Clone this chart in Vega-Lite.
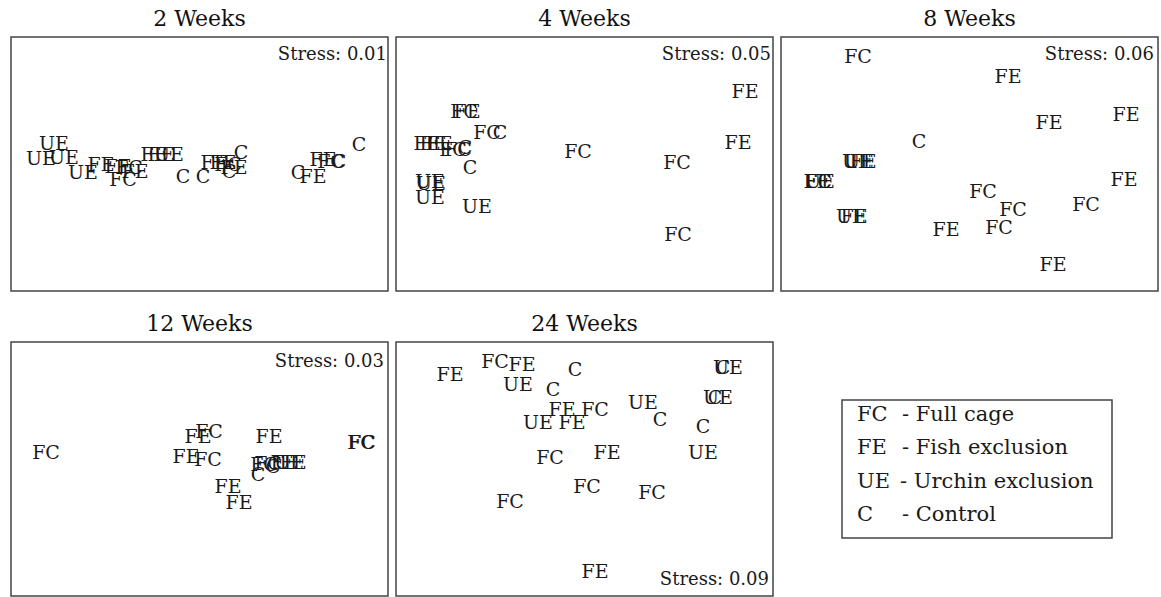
{
  "$schema": "https://vega.github.io/schema/vega-lite/v6.json",
  "background": "white",
  "padding": {"left": 10, "top": 7, "right": 0, "bottom": 0},
  "config": {
    "view": {"stroke": "#444", "strokeWidth": 1.5},
    "title": {"font": "DejaVu Serif", "fontSize": 22, "fontWeight": "normal", "color": "#111", "offset": 6, "anchor": "middle"},
    "text": {"font": "DejaVu Serif", "color": "#1a1a1a"}
  },
  "datasets": {
    "points": [
      {"panel": "2 Weeks", "label": "UE", "x": 43, "y": 147},
      {"panel": "2 Weeks", "label": "UE", "x": 30, "y": 132},
      {"panel": "2 Weeks", "label": "UE", "x": 53, "y": 133},
      {"panel": "2 Weeks", "label": "UE", "x": 72, "y": 118},
      {"panel": "2 Weeks", "label": "FE", "x": 90, "y": 126},
      {"panel": "2 Weeks", "label": "FE", "x": 107, "y": 124},
      {"panel": "2 Weeks", "label": "FC", "x": 112, "y": 111},
      {"panel": "2 Weeks", "label": "FC", "x": 118, "y": 123},
      {"panel": "2 Weeks", "label": "FE", "x": 124, "y": 119},
      {"panel": "2 Weeks", "label": "FE", "x": 143, "y": 136},
      {"panel": "2 Weeks", "label": "FE", "x": 150, "y": 136},
      {"panel": "2 Weeks", "label": "UE", "x": 158, "y": 136},
      {"panel": "2 Weeks", "label": "C", "x": 172, "y": 114},
      {"panel": "2 Weeks", "label": "C", "x": 192, "y": 114},
      {"panel": "2 Weeks", "label": "FE", "x": 203, "y": 128},
      {"panel": "2 Weeks", "label": "FE", "x": 212, "y": 128},
      {"panel": "2 Weeks", "label": "FC", "x": 217, "y": 126},
      {"panel": "2 Weeks", "label": "FE", "x": 223, "y": 123},
      {"panel": "2 Weeks", "label": "C", "x": 218, "y": 119},
      {"panel": "2 Weeks", "label": "C", "x": 230, "y": 138},
      {"panel": "2 Weeks", "label": "C", "x": 287, "y": 118},
      {"panel": "2 Weeks", "label": "FE", "x": 302, "y": 114},
      {"panel": "2 Weeks", "label": "FE", "x": 312, "y": 131},
      {"panel": "2 Weeks", "label": "FC", "x": 320, "y": 129},
      {"panel": "2 Weeks", "label": "C", "x": 328, "y": 129},
      {"panel": "2 Weeks", "label": "C", "x": 348, "y": 146},

      {"panel": "4 Weeks", "label": "FE", "x": 349, "y": 199},
      {"panel": "4 Weeks", "label": "FE", "x": 342, "y": 148},
      {"panel": "4 Weeks", "label": "FC", "x": 182, "y": 139},
      {"panel": "4 Weeks", "label": "FC", "x": 281, "y": 128},
      {"panel": "4 Weeks", "label": "FC", "x": 282, "y": 56},
      {"panel": "4 Weeks", "label": "FE", "x": 71, "y": 179},
      {"panel": "4 Weeks", "label": "FC", "x": 68, "y": 179},
      {"panel": "4 Weeks", "label": "FC", "x": 91, "y": 158},
      {"panel": "4 Weeks", "label": "C", "x": 104, "y": 158},
      {"panel": "4 Weeks", "label": "FE", "x": 31, "y": 147},
      {"panel": "4 Weeks", "label": "FE", "x": 37, "y": 147},
      {"panel": "4 Weeks", "label": "FE", "x": 43, "y": 147},
      {"panel": "4 Weeks", "label": "FC", "x": 57, "y": 141},
      {"panel": "4 Weeks", "label": "FC", "x": 62, "y": 141},
      {"panel": "4 Weeks", "label": "C", "x": 69, "y": 143},
      {"panel": "4 Weeks", "label": "C", "x": 74, "y": 123},
      {"panel": "4 Weeks", "label": "UE", "x": 34, "y": 109},
      {"panel": "4 Weeks", "label": "UE", "x": 35, "y": 107},
      {"panel": "4 Weeks", "label": "UE", "x": 34, "y": 93},
      {"panel": "4 Weeks", "label": "UE", "x": 81, "y": 84},

      {"panel": "8 Weeks", "label": "FC", "x": 77, "y": 234},
      {"panel": "8 Weeks", "label": "FE", "x": 227, "y": 214},
      {"panel": "8 Weeks", "label": "FE", "x": 268, "y": 168},
      {"panel": "8 Weeks", "label": "FE", "x": 345, "y": 176},
      {"panel": "8 Weeks", "label": "C", "x": 138, "y": 149},
      {"panel": "8 Weeks", "label": "UE", "x": 76, "y": 129},
      {"panel": "8 Weeks", "label": "UE", "x": 78, "y": 129},
      {"panel": "8 Weeks", "label": "FE", "x": 82, "y": 129},
      {"panel": "8 Weeks", "label": "FE", "x": 36, "y": 109},
      {"panel": "8 Weeks", "label": "FC", "x": 37, "y": 109},
      {"panel": "8 Weeks", "label": "UE", "x": 39, "y": 109},
      {"panel": "8 Weeks", "label": "UE", "x": 70, "y": 74},
      {"panel": "8 Weeks", "label": "FE", "x": 73, "y": 74},
      {"panel": "8 Weeks", "label": "FC", "x": 202, "y": 99},
      {"panel": "8 Weeks", "label": "FC", "x": 232, "y": 81},
      {"panel": "8 Weeks", "label": "FC", "x": 218, "y": 63},
      {"panel": "8 Weeks", "label": "FE", "x": 165, "y": 61},
      {"panel": "8 Weeks", "label": "FC", "x": 305, "y": 86},
      {"panel": "8 Weeks", "label": "FE", "x": 343, "y": 111},
      {"panel": "8 Weeks", "label": "FE", "x": 272, "y": 26},

      {"panel": "12 Weeks", "label": "FC", "x": 35, "y": 143},
      {"panel": "12 Weeks", "label": "FC", "x": 350, "y": 153},
      {"panel": "12 Weeks", "label": "FC", "x": 351, "y": 153},
      {"panel": "12 Weeks", "label": "FE", "x": 187, "y": 159},
      {"panel": "12 Weeks", "label": "FC", "x": 198, "y": 164},
      {"panel": "12 Weeks", "label": "FE", "x": 175, "y": 139},
      {"panel": "12 Weeks", "label": "FC", "x": 197, "y": 136},
      {"panel": "12 Weeks", "label": "FE", "x": 258, "y": 159},
      {"panel": "12 Weeks", "label": "FE", "x": 217, "y": 109},
      {"panel": "12 Weeks", "label": "FE", "x": 228, "y": 93},
      {"panel": "12 Weeks", "label": "C", "x": 247, "y": 121},
      {"panel": "12 Weeks", "label": "FC", "x": 253, "y": 131},
      {"panel": "12 Weeks", "label": "FC", "x": 257, "y": 132},
      {"panel": "12 Weeks", "label": "C", "x": 262, "y": 129},
      {"panel": "12 Weeks", "label": "FE", "x": 273, "y": 133},
      {"panel": "12 Weeks", "label": "UE", "x": 278, "y": 133},
      {"panel": "12 Weeks", "label": "FE", "x": 282, "y": 133},

      {"panel": "24 Weeks", "label": "FE", "x": 54, "y": 221},
      {"panel": "24 Weeks", "label": "FC", "x": 99, "y": 234},
      {"panel": "24 Weeks", "label": "FE", "x": 126, "y": 231},
      {"panel": "24 Weeks", "label": "UE", "x": 122, "y": 211},
      {"panel": "24 Weeks", "label": "C", "x": 179, "y": 226},
      {"panel": "24 Weeks", "label": "C", "x": 157, "y": 206},
      {"panel": "24 Weeks", "label": "FE", "x": 166, "y": 186},
      {"panel": "24 Weeks", "label": "FC", "x": 199, "y": 186},
      {"panel": "24 Weeks", "label": "UE", "x": 142, "y": 173},
      {"panel": "24 Weeks", "label": "FE", "x": 176, "y": 173},
      {"panel": "24 Weeks", "label": "UE", "x": 247, "y": 193},
      {"panel": "24 Weeks", "label": "C", "x": 264, "y": 176},
      {"panel": "24 Weeks", "label": "C", "x": 327, "y": 228},
      {"panel": "24 Weeks", "label": "UE", "x": 332, "y": 228},
      {"panel": "24 Weeks", "label": "C", "x": 319, "y": 198},
      {"panel": "24 Weeks", "label": "UE", "x": 322, "y": 198},
      {"panel": "24 Weeks", "label": "C", "x": 307, "y": 169},
      {"panel": "24 Weeks", "label": "UE", "x": 307, "y": 143},
      {"panel": "24 Weeks", "label": "FC", "x": 154, "y": 138},
      {"panel": "24 Weeks", "label": "FE", "x": 211, "y": 143},
      {"panel": "24 Weeks", "label": "FC", "x": 191, "y": 109},
      {"panel": "24 Weeks", "label": "FC", "x": 256, "y": 103},
      {"panel": "24 Weeks", "label": "FC", "x": 114, "y": 94},
      {"panel": "24 Weeks", "label": "FE", "x": 199, "y": 24}
    ],
    "stress": [
      {"panel": "2 Weeks", "label": "Stress: 0.01", "x": 376, "y": 236},
      {"panel": "4 Weeks", "label": "Stress: 0.05", "x": 375, "y": 236},
      {"panel": "8 Weeks", "label": "Stress: 0.06", "x": 373, "y": 236},
      {"panel": "12 Weeks", "label": "Stress: 0.03", "x": 373, "y": 234},
      {"panel": "24 Weeks", "label": "Stress: 0.09", "x": 373, "y": 16}
    ],
    "legend": [
      {"code": "FC", "desc": "- Full cage", "x": 77, "xd": 122, "y": 181},
      {"code": "FE", "desc": "- Fish exclusion", "x": 77, "xd": 122, "y": 148},
      {"code": "UE", "desc": "- Urchin exclusion", "x": 77, "xd": 120, "y": 114},
      {"code": "C", "desc": "- Control", "x": 77, "xd": 122, "y": 81}
    ],
    "legendbox": [
      {"x1": 62, "x2": 332, "y1": 58, "y2": 196}
    ]
  },
  "spacing": 20,
  "vconcat": [
    {
      "spacing": 6,
      "hconcat": [
        {
          "title": "2 Weeks", "width": 377, "height": 254,
          "layer": [
            {"data": {"name": "points"}, "transform": [{"filter": "datum.panel === '2 Weeks'"}],
             "mark": {"type": "text", "fontSize": 19},
             "encoding": {"x": {"field": "x", "type": "quantitative", "scale": {"domain": [0, 377], "nice": false, "zero": false}, "axis": null},
                          "y": {"field": "y", "type": "quantitative", "scale": {"domain": [0, 254], "nice": false, "zero": false}, "axis": null},
                          "text": {"field": "label"}}},
            {"data": {"name": "stress"}, "transform": [{"filter": "datum.panel === '2 Weeks'"}],
             "mark": {"type": "text", "fontSize": 18, "align": "right"},
             "encoding": {"x": {"field": "x", "type": "quantitative", "scale": {"domain": [0, 377], "nice": false, "zero": false}, "axis": null},
                          "y": {"field": "y", "type": "quantitative", "scale": {"domain": [0, 254], "nice": false, "zero": false}, "axis": null},
                          "text": {"field": "label"}}}
          ]
        },
        {
          "title": "4 Weeks", "width": 377, "height": 254,
          "layer": [
            {"data": {"name": "points"}, "transform": [{"filter": "datum.panel === '4 Weeks'"}],
             "mark": {"type": "text", "fontSize": 19},
             "encoding": {"x": {"field": "x", "type": "quantitative", "scale": {"domain": [0, 377], "nice": false, "zero": false}, "axis": null},
                          "y": {"field": "y", "type": "quantitative", "scale": {"domain": [0, 254], "nice": false, "zero": false}, "axis": null},
                          "text": {"field": "label"}}},
            {"data": {"name": "stress"}, "transform": [{"filter": "datum.panel === '4 Weeks'"}],
             "mark": {"type": "text", "fontSize": 18, "align": "right"},
             "encoding": {"x": {"field": "x", "type": "quantitative", "scale": {"domain": [0, 377], "nice": false, "zero": false}, "axis": null},
                          "y": {"field": "y", "type": "quantitative", "scale": {"domain": [0, 254], "nice": false, "zero": false}, "axis": null},
                          "text": {"field": "label"}}}
          ]
        },
        {
          "title": "8 Weeks", "width": 377, "height": 254,
          "layer": [
            {"data": {"name": "points"}, "transform": [{"filter": "datum.panel === '8 Weeks'"}],
             "mark": {"type": "text", "fontSize": 19},
             "encoding": {"x": {"field": "x", "type": "quantitative", "scale": {"domain": [0, 377], "nice": false, "zero": false}, "axis": null},
                          "y": {"field": "y", "type": "quantitative", "scale": {"domain": [0, 254], "nice": false, "zero": false}, "axis": null},
                          "text": {"field": "label"}}},
            {"data": {"name": "stress"}, "transform": [{"filter": "datum.panel === '8 Weeks'"}],
             "mark": {"type": "text", "fontSize": 18, "align": "right"},
             "encoding": {"x": {"field": "x", "type": "quantitative", "scale": {"domain": [0, 377], "nice": false, "zero": false}, "axis": null},
                          "y": {"field": "y", "type": "quantitative", "scale": {"domain": [0, 254], "nice": false, "zero": false}, "axis": null},
                          "text": {"field": "label"}}}
          ]
        }
      ]
    },
    {
      "spacing": 6,
      "hconcat": [
        {
          "title": "12 Weeks", "width": 377, "height": 254,
          "layer": [
            {"data": {"name": "points"}, "transform": [{"filter": "datum.panel === '12 Weeks'"}],
             "mark": {"type": "text", "fontSize": 19},
             "encoding": {"x": {"field": "x", "type": "quantitative", "scale": {"domain": [0, 377], "nice": false, "zero": false}, "axis": null},
                          "y": {"field": "y", "type": "quantitative", "scale": {"domain": [0, 254], "nice": false, "zero": false}, "axis": null},
                          "text": {"field": "label"}}},
            {"data": {"name": "stress"}, "transform": [{"filter": "datum.panel === '12 Weeks'"}],
             "mark": {"type": "text", "fontSize": 18, "align": "right"},
             "encoding": {"x": {"field": "x", "type": "quantitative", "scale": {"domain": [0, 377], "nice": false, "zero": false}, "axis": null},
                          "y": {"field": "y", "type": "quantitative", "scale": {"domain": [0, 254], "nice": false, "zero": false}, "axis": null},
                          "text": {"field": "label"}}}
          ]
        },
        {
          "title": "24 Weeks", "width": 377, "height": 254,
          "layer": [
            {"data": {"name": "points"}, "transform": [{"filter": "datum.panel === '24 Weeks'"}],
             "mark": {"type": "text", "fontSize": 19},
             "encoding": {"x": {"field": "x", "type": "quantitative", "scale": {"domain": [0, 377], "nice": false, "zero": false}, "axis": null},
                          "y": {"field": "y", "type": "quantitative", "scale": {"domain": [0, 254], "nice": false, "zero": false}, "axis": null},
                          "text": {"field": "label"}}},
            {"data": {"name": "stress"}, "transform": [{"filter": "datum.panel === '24 Weeks'"}],
             "mark": {"type": "text", "fontSize": 18, "align": "right"},
             "encoding": {"x": {"field": "x", "type": "quantitative", "scale": {"domain": [0, 377], "nice": false, "zero": false}, "axis": null},
                          "y": {"field": "y", "type": "quantitative", "scale": {"domain": [0, 254], "nice": false, "zero": false}, "axis": null},
                          "text": {"field": "label"}}}
          ]
        },
        {
          "title": " ", "width": 377, "height": 254,
          "view": {"stroke": null},
          "layer": [
            {"data": {"name": "legendbox"},
             "mark": {"type": "rect", "fill": null, "stroke": "#444", "strokeWidth": 1.5},
             "encoding": {"x": {"field": "x1", "type": "quantitative", "scale": {"domain": [0, 377], "nice": false, "zero": false}, "axis": null},
                          "x2": {"field": "x2"},
                          "y": {"field": "y1", "type": "quantitative", "scale": {"domain": [0, 254], "nice": false, "zero": false}, "axis": null},
                          "y2": {"field": "y2"}}},
            {"data": {"name": "legend"},
             "mark": {"type": "text", "fontSize": 21, "align": "left"},
             "encoding": {"x": {"field": "x", "type": "quantitative", "scale": {"domain": [0, 377], "nice": false, "zero": false}, "axis": null},
                          "y": {"field": "y", "type": "quantitative", "scale": {"domain": [0, 254], "nice": false, "zero": false}, "axis": null},
                          "text": {"field": "code"}}},
            {"data": {"name": "legend"},
             "mark": {"type": "text", "fontSize": 21, "align": "left"},
             "encoding": {"x": {"field": "xd", "type": "quantitative", "scale": {"domain": [0, 377], "nice": false, "zero": false}, "axis": null},
                          "y": {"field": "y", "type": "quantitative", "scale": {"domain": [0, 254], "nice": false, "zero": false}, "axis": null},
                          "text": {"field": "desc"}}}
          ]
        }
      ]
    }
  ]
}
